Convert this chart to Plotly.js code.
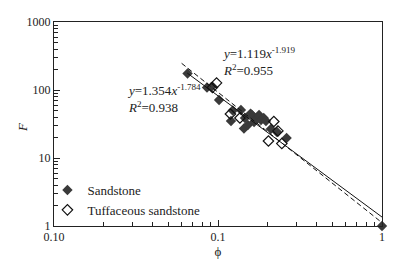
<!DOCTYPE html>
<html>
<head>
<meta charset="utf-8">
<script src="https://cdn.plot.ly/plotly-3.0.1.min.js"></script>
<style>html,body{margin:0;padding:0;background:#fff;}#chart{width:417px;height:259px;}</style>
</head>
<body>
<div id="chart"></div>
<script>
// Sandstone (filled diamonds)
var sandPhi = [0.0652, 0.0857, 0.0912, 0.1015, 0.123, 0.138, 0.120, 0.146, 0.144, 0.152, 0.161, 0.171, 0.178, 0.183, 0.166, 0.190, 0.196, 0.210, 0.229, 0.262, 0.158, 1.0];
var sandF   = [175, 109, 111, 71.3, 50, 50.8, 35, 38.7, 27.2, 30.6, 42.9, 38.7, 42.9, 36.2, 33.8, 38.7, 35, 26.7, 24.1, 19.7, 45, 1.0];
// Tuffaceous sandstone (open diamonds)
var tuffPhi = [0.098, 0.0925, 0.119, 0.136, 0.219, 0.232, 0.203, 0.245];
var tuffF   = [127, 109, 44.4, 38.7, 34.4, 25, 17.8, 16.3];
// Fit lines (end points)
var fitSolidPhi = [0.065, 1.0];
var fitSolidF   = [177, 1.354];
var fitDashPhi  = [0.060, 1.0];
var fitDashF    = [247, 1.119];
// Axis ticks
var xTickVals = [0.01, 0.1, 1];
var xTickText = ['0.10', '0.1', '1'];
var xMinorVals = [0.02,0.03,0.04,0.05,0.06,0.07,0.08,0.09,0.2,0.3,0.4,0.5,0.6,0.7,0.8,0.9];
var yTickVals = [1, 10, 100, 1000];
var yTickText = ['1', '10', '100', '1000'];
var yMinorVals = [2,3,4,5,6,7,8,9,20,30,40,50,60,70,80,90,200,300,400,500,600,700,800,900];

var serif = 'Liberation Serif, Times New Roman, serif';
var ink = '#222';

var traces = [
  {x: sandPhi, y: sandF, type: 'scatter', mode: 'markers', name: 'Sandstone', cliponaxis: false,
   marker: {symbol: 'diamond', size: 8, color: '#3a3a3a', line: {width: 0}}},
  {x: tuffPhi, y: tuffF, type: 'scatter', mode: 'markers', name: 'Tuffaceous sandstone', cliponaxis: false,
   marker: {symbol: 'diamond-open', size: 8, color: '#111', line: {width: 1.2}}},
  {x: fitSolidPhi, y: fitSolidF, type: 'scatter', mode: 'lines', showlegend: false,
   line: {color: '#111', width: 1}},
  {x: fitDashPhi, y: fitDashF, type: 'scatter', mode: 'lines', showlegend: false,
   line: {color: '#111', width: 1, dash: '5px,3px'}}
];

var layout = {
  width: 417, height: 259,
  margin: {l: 54, r: 35, t: 22, b: 33, pad: 0},
  paper_bgcolor: '#fff', plot_bgcolor: '#fff',
  font: {family: serif, size: 12, color: ink},
  showlegend: true,
  legend: {x: -0.02, y: 0.25, xanchor: 'left', yanchor: 'top', bgcolor: 'rgba(0,0,0,0)',
           font: {family: serif, size: 13, color: ink}, itemwidth: 30, tracegroupgap: 0},
  xaxis: {type: 'log', range: [-2, 0], tickmode: 'array', tickvals: xTickVals, ticktext: xTickText,
          ticks: 'inside', ticklen: 6, tickcolor: ink,
          minor: {tickmode: 'array', tickvals: xMinorVals, ticks: 'inside', ticklen: 4, tickcolor: ink, showgrid: false},
          showgrid: false, zeroline: false,
          showline: true, linecolor: ink, linewidth: 1, mirror: true,
          tickfont: {family: serif, size: 12, color: ink},
          title: {text: 'ϕ', font: {family: serif, size: 13, color: ink}, standoff: 2}},
  yaxis: {type: 'log', range: [0, 3], tickmode: 'array', tickvals: yTickVals, ticktext: yTickText,
          ticks: 'inside', ticklen: 6, tickcolor: ink,
          minor: {tickmode: 'array', tickvals: yMinorVals, ticks: 'inside', ticklen: 4, tickcolor: ink, showgrid: false},
          showgrid: false, zeroline: false,
          showline: true, linecolor: ink, linewidth: 1, mirror: true,
          tickfont: {family: serif, size: 12, color: ink}},
  annotations: [
    {xref: 'paper', yref: 'paper', x: -0.098, y: 0.485, xanchor: 'center', yanchor: 'middle', showarrow: false,
     textangle: -90, text: '<i>F</i>', font: {family: serif, size: 13, color: ink}},
    {xref: 'paper', yref: 'paper', x: 0.506, y: 0.804, xanchor: 'left', yanchor: 'middle', align: 'left', showarrow: false,
     text: '<i>y</i>=1.119<i>x</i><sup>-1.919</sup><br><i>R</i><sup>2</sup>=0.955', font: {family: serif, size: 13, color: ink}},
    {xref: 'paper', yref: 'paper', x: 0.217, y: 0.623, xanchor: 'left', yanchor: 'middle', align: 'left', showarrow: false,
     text: '<i>y</i>=1.354<i>x</i><sup>-1.784</sup><br><i>R</i><sup>2</sup>=0.938', font: {family: serif, size: 13, color: ink}}
  ]
};

Plotly.newPlot('chart', traces, layout, {staticPlot: true, displayModeBar: false});
</script>
</body>
</html>
